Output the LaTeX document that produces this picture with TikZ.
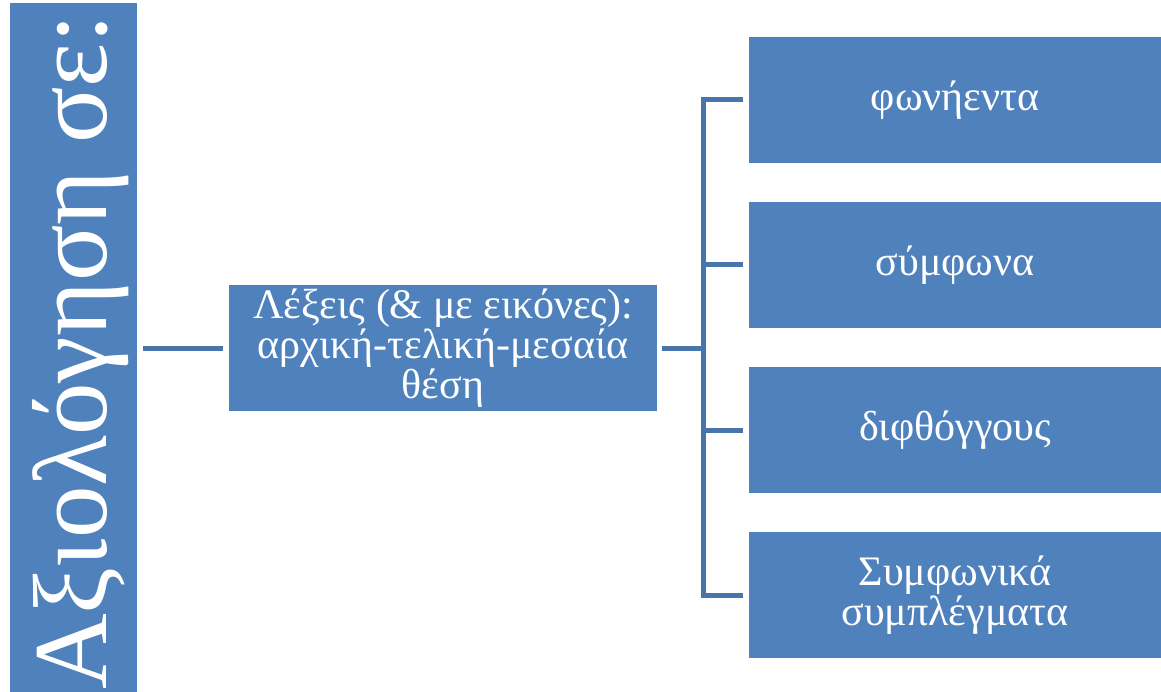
\documentclass[tikz,border=0pt]{standalone}
\usepackage{fontspec}
\setmainfont{Liberation Serif}
\usepackage{tikz}
\usetikzlibrary{calc}
\definecolor{boxblue}{RGB}{79,129,189}
\definecolor{lineblue}{RGB}{71,117,172}

\begin{document}
\begin{tikzpicture}[x=1pt, y=-1pt,
		blockbox/.style={fill=boxblue, draw=none, inner sep=0pt, text=white, align=center,
			font=\fontsize{42}{40}\selectfont},
		conn/.style={draw=lineblue, line width=5pt}]
			%%%%% START %%%%%
			
			\useasboundingbox (0, 0) rectangle (1161, 692);
			
			% left bar with rotated title
			\node[blockbox, minimum width=127pt, minimum height=692pt] (bar) at (73.5, 349) {};
			\node[rotate=90, anchor=base, text=white, font=\fontsize{105}{110}\selectfont] (title) at (106, 352) {Αξιολόγηση σε:};
			
			% middle box
			\node[blockbox, minimum width=428pt, minimum height=126pt] (mid) at (443, 348) {Λέξεις (\& με εικόνες):\\αρχική-τελική-μεσαία\\θέση};
			
			% right boxes
			\node[blockbox, minimum width=412pt, minimum height=126pt] (vow) at (955, 100) {φωνήεντα};
			\node[blockbox, minimum width=412pt, minimum height=126pt] (cons) at (955, 265) {σύμφωνα};
			\node[blockbox, minimum width=412pt, minimum height=126pt] (diph) at (955, 430) {διφθόγγους};
			\node[blockbox, minimum width=412pt, minimum height=126pt] (clus) at (955, 595) {Συμφωνικά\\συμπλέγματα};
			
			\coordinate (trunk) at (703, 348);
			
			% connectors
			\draw[conn, shorten <=6pt, shorten >=6pt] (bar.east |- mid.west) -- (mid.west);
			\draw[conn, shorten <=5pt] (mid.east) -- (trunk);
			\draw[conn, shorten <=6pt, shorten >=6pt] (vow.west) -- (trunk |- vow.west) -- (trunk |- clus.west) -- (clus.west);
			\draw[conn, shorten >=6pt] (trunk |- cons.west) -- (cons.west);
			\draw[conn, shorten >=6pt] (trunk |- diph.west) -- (diph.west);
			
			%%%%% END %%%%%
		\end{tikzpicture}
\end{document}
